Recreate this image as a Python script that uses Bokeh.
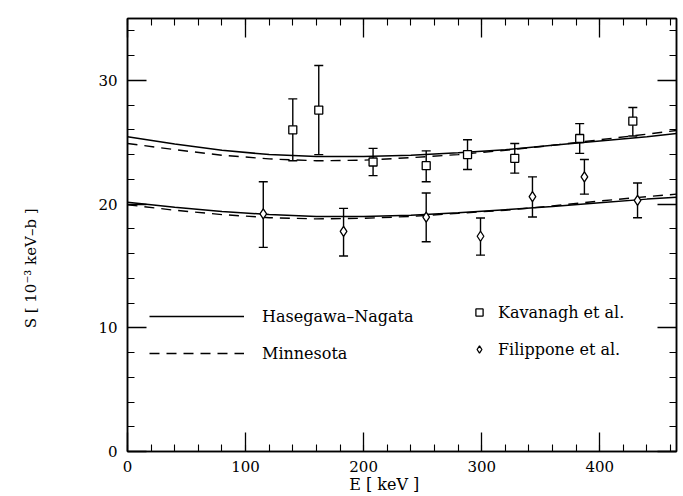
from bokeh.plotting import figure
from bokeh.models import (ColumnDataSource, Whisker, TeeHead, Legend, LegendItem,
                          LinearAxis, Range1d, SingleIntervalTicker)
from bokeh.embed import file_html
from bokeh.resources import INLINE

# ---- data ----
E_curve = [0, 40, 80, 120, 160, 200, 240, 280, 320, 360, 400, 440, 465]
hn_upper = [25.45, 24.85, 24.35, 24.0, 23.85, 23.85, 23.95, 24.15, 24.4, 24.75, 25.1, 25.45, 25.7]
mn_upper = [24.9, 24.4, 23.95, 23.65, 23.5, 23.55, 23.75, 24.0, 24.35, 24.75, 25.2, 25.65, 25.95]
hn_lower = [20.15, 19.75, 19.4, 19.15, 19.0, 19.0, 19.1, 19.3, 19.55, 19.8, 20.1, 20.4, 20.55]
mn_lower = [19.95, 19.5, 19.15, 18.9, 18.8, 18.85, 19.0, 19.25, 19.5, 19.85, 20.25, 20.6, 20.8]

kav_E = [140, 162, 208, 253, 288, 328, 383, 428]
kav_S = [26.0, 27.6, 23.4, 23.1, 24.0, 23.7, 25.3, 26.7]
kav_hi = [28.5, 31.2, 24.5, 24.3, 25.2, 24.9, 26.5, 27.8]
kav_lo = [23.5, 24.0, 22.3, 21.8, 22.8, 22.5, 24.1, 25.5]

fil_E = [115, 183, 253, 299, 343, 387, 432]
fil_S = [19.2, 17.8, 18.95, 17.4, 20.6, 22.2, 20.3]
fil_hi = [21.8, 19.65, 20.9, 18.87, 22.2, 23.6, 21.7]
fil_lo = [16.5, 15.8, 16.95, 15.87, 18.95, 20.8, 18.9]

NB = "\u00a0"
x_label = "E [ keV ]"
y_label = "S [ 10\u207b\u00b3 keV\u2013b ]"
legend_labels = ["Hasegawa\u2013Nagata", "Minnesota", "Kavanagh et al.", "Filippone et al."]

FONT = "DejaVu Serif"

p = figure(width=683, height=496, output_backend="svg", toolbar_location=None,
           x_range=Range1d(0, 465), y_range=Range1d(0, 35),
           min_border_left=127, min_border_right=7, min_border_top=18, min_border_bottom=45)
p.background_fill_color = "white"
p.border_fill_color = "white"
p.grid.visible = False
p.outline_line_color = "black"
p.outline_line_width = 1.5

xt = SingleIntervalTicker(interval=100, num_minor_ticks=5)
yt = SingleIntervalTicker(interval=10, num_minor_ticks=5)

def style_axis(ax, labels=True):
    ax.axis_line_color = "black"
    ax.axis_line_width = 1.5
    ax.major_tick_in = 19
    ax.major_tick_out = 0
    ax.minor_tick_in = 7
    ax.minor_tick_out = 0
    ax.major_tick_line_width = 1.3
    ax.minor_tick_line_width = 1.1
    ax.major_tick_line_color = "black"
    ax.minor_tick_line_color = "black"
    ax.major_label_text_font = FONT
    ax.major_label_text_font_size = "15px"
    ax.major_label_text_color = "black"
    ax.axis_label_text_font = FONT
    ax.axis_label_text_font_style = "normal"
    ax.axis_label_text_color = "black"
    if not labels:
        ax.major_label_text_color = None
        ax.major_label_text_font_size = "1px"
        ax.major_label_standoff = 0

p.xaxis.ticker = xt
p.yaxis.ticker = yt
style_axis(p.xaxis[0])
style_axis(p.yaxis[0])
p.xaxis.major_label_standoff = 9
p.yaxis.major_label_standoff = 10

# axis titles (trailing no-break spaces shift them off-centre as in the reference)
p.xaxis.axis_label = x_label + NB * 7
p.xaxis.axis_label_text_font_size = "16px"
p.xaxis.axis_label_standoff = 0
p.yaxis.axis_label = y_label + NB * 14
p.yaxis.axis_label_text_font_size = "15px"
p.yaxis.axis_label_standoff = 55

top = LinearAxis(ticker=xt)
right = LinearAxis(ticker=yt)
style_axis(top, labels=False)
style_axis(right, labels=False)
p.add_layout(top, "above")
p.add_layout(right, "right")

# theory curves
hn1 = p.line(E_curve, hn_upper, line_color="black", line_width=1.5)
p.line(E_curve, hn_lower, line_color="black", line_width=1.5)
mn1 = p.line(E_curve, mn_upper, line_color="black", line_width=1.4, line_dash="10 7")
p.line(E_curve, mn_lower, line_color="black", line_width=1.4, line_dash="10 7")

# data with error bars
kav = ColumnDataSource(dict(x=kav_E, y=kav_S, lo=kav_lo, hi=kav_hi))
fil = ColumnDataSource(dict(x=fil_E, y=fil_S, lo=fil_lo, hi=fil_hi))
for src in (kav, fil):
    w = Whisker(source=src, base="x", lower="lo", upper="hi", dimension="height",
                line_color="black", line_width=1.4,
                upper_head=TeeHead(size=9, line_color="black", line_width=1.4),
                lower_head=TeeHead(size=9, line_color="black", line_width=1.4))
    p.add_layout(w)

ks = p.scatter("x", "y", source=kav, marker="square", size=8, fill_color="white",
               line_color="black", line_width=1.3)
fs = p.scatter("x", "y", source=fil, marker="diamond", size=10,
               fill_color="white", line_color="black", line_width=1.3)

def style_legend(lg):
    lg.background_fill_alpha = 0
    lg.border_line_alpha = 0
    lg.padding = 0
    lg.margin = 0
    lg.label_text_font = FONT
    lg.label_text_font_size = "16px"
    lg.label_text_color = "black"
    lg.glyph_height = 20
    lg.label_height = 20
    lg.spacing = 17

lg1 = Legend(items=[LegendItem(label=legend_labels[0], renderers=[hn1]),
                    LegendItem(label=legend_labels[1], renderers=[mn1])],
             location=(22, 88), glyph_width=95, label_standoff=18)
lg2 = Legend(items=[LegendItem(label=legend_labels[2], renderers=[ks]),
                    LegendItem(label=legend_labels[3], renderers=[fs])],
             location=(343, 92), glyph_width=18, label_standoff=10)
style_legend(lg1)
style_legend(lg2)
p.add_layout(lg1)
p.add_layout(lg2)

open("out.html", "w").write(file_html(p, INLINE))
